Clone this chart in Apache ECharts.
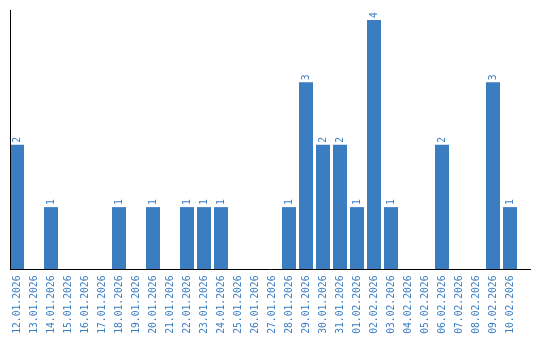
<!DOCTYPE html>
<html><head><meta charset="utf-8">
<script src="https://cdn.jsdelivr.net/npm/echarts@6/dist/echarts.min.js"></script>
<style>html,body{margin:0;padding:0;background:#fff}#c{width:540px;height:340px}</style>
</head><body><div id="c"></div>
<script>
const categories = ["12.01.2026","13.01.2026","14.01.2026","15.01.2026","16.01.2026","17.01.2026","18.01.2026","19.01.2026","20.01.2026","21.01.2026","22.01.2026","23.01.2026","24.01.2026","25.01.2026","26.01.2026","27.01.2026","28.01.2026","29.01.2026","30.01.2026","31.01.2026","01.02.2026","02.02.2026","03.02.2026","04.02.2026","05.02.2026","06.02.2026","07.02.2026","08.02.2026","09.02.2026","10.02.2026"];
const values = [2,0,1,0,0,0,1,0,1,0,1,1,1,0,0,0,1,3,2,2,1,4,1,0,0,2,0,0,3,1];

const blue = '#3b7dc1';
const font = 'DejaVu Sans Mono';
const chart = echarts.init(document.getElementById('c'));
chart.setOption({
  animation: false,
  grid: {left: 8.5, width: 510, top: 10, bottom: 70.5},
  xAxis: {
    type: 'category', data: categories,
    axisLine: {show: false}, axisTick: {show: false},
    axisLabel: {rotate: 90, interval: 0, color: blue, fontFamily: font, fontSize: 9.7, margin: 6}
  },
  yAxis: {
    type: 'value', min: 0, max: 4.16,
    axisLine: {show: false}, axisTick: {show: false}, axisLabel: {show: false}, splitLine: {show: false}
  },
  series: [{
    type: 'bar', data: values.map(v => v === 0 ? null : v), barWidth: 14,
    itemStyle: {color: blue},
    label: {show: true, position: 'top', rotate: 90, align: 'left', verticalAlign: 'middle', distance: 2,
      color: blue, fontFamily: font, fontSize: 9.7}
  }],
  graphic: [
    {type: 'line', shape: {x1: 10.5, y1: 10, x2: 10.5, y2: 270}, style: {stroke: '#000', lineWidth: 1}, z: 100},
    {type: 'line', shape: {x1: 10, y1: 269.5, x2: 531, y2: 269.5}, style: {stroke: '#000', lineWidth: 1}, z: 100}
  ]
});
</script></body></html>
